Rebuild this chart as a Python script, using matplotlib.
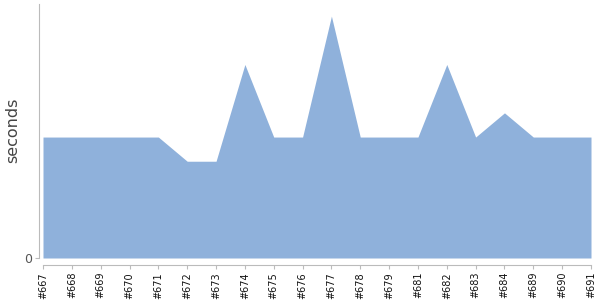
import matplotlib
matplotlib.use("Agg")
import matplotlib.pyplot as plt

builds = ["#667", "#668", "#669", "#670", "#671", "#672", "#673", "#674", "#675", "#676",
          "#677", "#678", "#679", "#681", "#682", "#683", "#684", "#689", "#690", "#691"]
seconds = [5, 5, 5, 5, 5, 4, 4, 8, 5, 5, 10, 5, 5, 5, 8, 5, 6, 5, 5, 5]

fig = plt.figure(figsize=(6, 3), dpi=100)
ax = fig.add_axes([43/600, 42/300, (591-43)/600, (258-4)/300])
for s in ["top", "right"]:
    ax.spines[s].set_visible(False)
ax.spines["left"].set_position(("outward", 3))
ax.spines["bottom"].set_position(("outward", 5))
ax.spines["left"].set_color("#bbbbbb")
ax.spines["bottom"].set_color("#bbbbbb")

x = list(range(len(builds)))
ax.fill_between(x, 0, seconds, color="#8fb1db", linewidth=0)
ax.set_xlim(0, len(builds) - 1)
ax.set_ylim(0, 10.5)
ax.set_xticks(x)
ax.set_xticklabels(builds, rotation=90, fontsize=7, color="#111")
ax.set_yticks([0])
ax.set_yticklabels(["0"], fontsize=9, color="#555")
ax.tick_params(axis="x", length=3, color="#bbbbbb", pad=2)
ax.tick_params(axis="y", length=3, color="#bbbbbb", pad=2)
ax.set_ylabel("seconds", fontsize=11.5, color="#444")
ax.yaxis.set_label_coords(-23/548, 0.5 - (130.5 - 131) / 254)
fig.savefig("out.png", dpi=100)
